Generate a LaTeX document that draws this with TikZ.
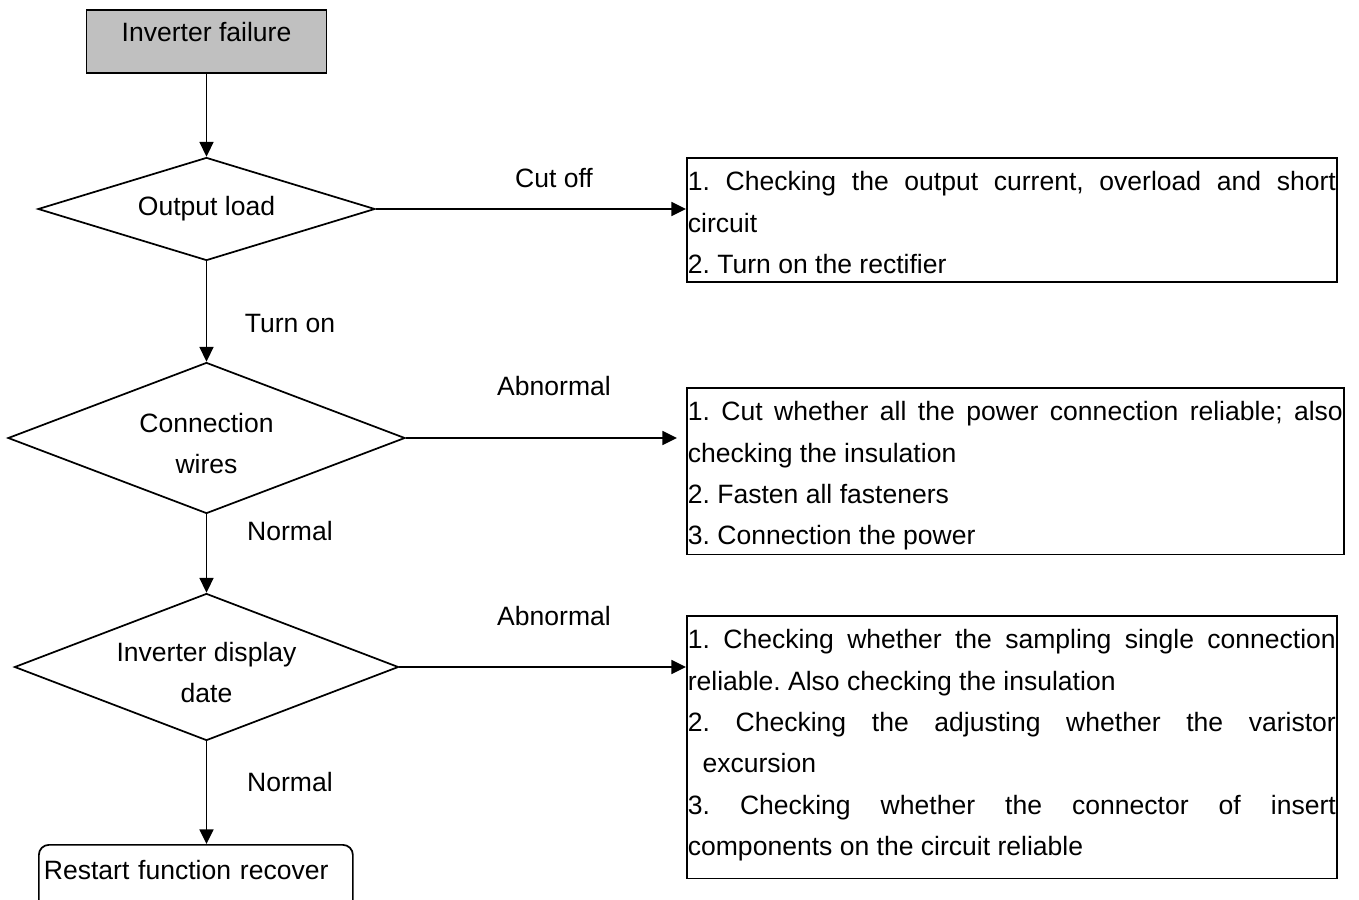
\documentclass[tikz,border=0pt]{standalone}
\usepackage{fontspec}
\setmainfont{Liberation Sans}
\usetikzlibrary{arrows.meta,shapes.geometric}
\definecolor{startgray}{RGB}{192,192,192}
\setlength{\parindent}{0pt}
\frenchspacing
\hyphenpenalty=10000

\begin{document}
\begin{tikzpicture}[
  x=0.75pt,y=-0.75pt,
  font=\fontsize{19.9pt}{31.1pt}\selectfont,
  startbox/.style={draw,line width=1.3pt,fill=startgray,minimum width=180pt,
                   inner sep=0pt,text height=24pt,text depth=23.25pt},
  decision/.style={diamond,draw,line width=1.3pt,inner sep=0pt,align=center},
  notebox/.style={draw,line width=1.3pt,anchor=north west,inner xsep=0.75pt,
                  inner ysep=0pt,align=justify},
  endbox/.style={draw,line width=1.3pt,rounded corners=7.5pt,anchor=north west,
                 inner xsep=3.75pt,inner ysep=0pt,text width=228pt,align=left},
  lbl/.style={inner sep=0pt},
  arrow/.style={-{Triangle[length=11pt,width=10.5pt]},line width=1.3pt}
]
\clip (0,0) rectangle (1359,899);
\node[startbox] (failure) at (206.5,41.5) {Inverter failure};
\node[decision,aspect=3.27,minimum width=252.75pt,minimum height=77.25pt] (load) at (206.5,209) {\rule{0pt}{14pt}Output load};
\node[decision,aspect=2.63,minimum width=297.75pt,minimum height=113.25pt] (wires) at (206.5,438) {\rule{0pt}{23pt}Connection\\wires};
\node[decision,aspect=2.61,minimum width=288pt,minimum height=110.25pt] (display) at (206.5,667) {\rule{0pt}{23pt}Inverter display\\date};
\node[endbox] (restart) at (38,844) {\rule{0pt}{25.9pt}Restart function recover\rule[-30pt]{0pt}{30pt}};

% right side notes
\node[notebox,text width=486pt] (loadnote) at (686,157)
  {\rule{0pt}{24.5pt}1. Checking the output current, overload and short\linebreak
   circuit\\
   2. Turn on the rectifier\rule[-6.4pt]{0pt}{6.4pt}};
\node[notebox,text width=491.25pt] (wiresnote) at (686,387)
  {\rule{0pt}{24.5pt}1. Cut whether all the power connection reliable; also\linebreak
   checking the insulation\\
   2. Fasten all fasteners\\
   3. Connection the power\rule[-7.1pt]{0pt}{7.1pt}};
\node[notebox,text width=486pt] (displaynote) at (686,615)
  {\rule{0pt}{24.5pt}1. Checking whether the sampling single connection\linebreak
   reliable. Also checking the insulation\\
   2. Checking the adjusting whether the varistor\linebreak
   \hspace*{11pt}excursion\\
   3. Checking whether the connector of insert\linebreak
   components on the circuit reliable\rule[-16.9pt]{0pt}{16.9pt}};

% labels
\node[lbl] (cutoff) at (554,178) {Cut off};
\node[lbl] (turnon) at (290,323) {Turn on};
\node[lbl] (abnormal1) at (554,386) {Abnormal};
\node[lbl] (normal1) at (290,531) {Normal};
\node[lbl] (abnormal2) at (554,616) {Abnormal};
\node[lbl] (normal2) at (290,782) {Normal};

\draw[arrow] (failure)--(load);
\draw[arrow] (load.east)--(load.east -| loadnote.west);
\draw[arrow] (load)--(wires);
\draw[arrow,shorten >=6.75pt] (wires.east)--(wires.east -| wiresnote.west);
\draw[arrow] (wires)--(display);
\draw[arrow] (display.east)--(display.east -| displaynote.west);
\draw[arrow] (display)--(restart.north -| display.south);
\end{tikzpicture}
\end{document}
